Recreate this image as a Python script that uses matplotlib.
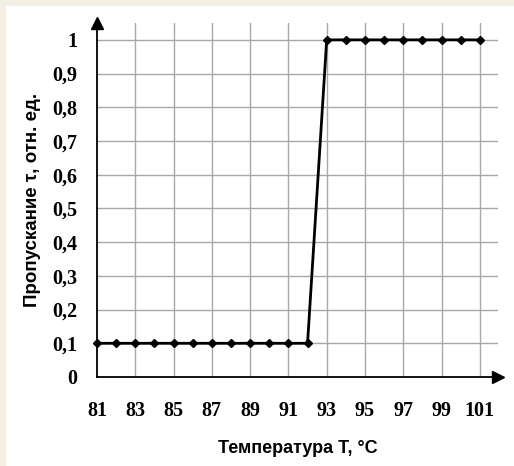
import matplotlib.pyplot as plt
from matplotlib.patches import Rectangle

# Transmission vs temperature
temps = [81, 82, 83, 84, 85, 86, 87, 88, 89, 90, 91, 92,
         93, 94, 95, 96, 97, 98, 99, 100, 101]
trans = [0.1, 0.1, 0.1, 0.1, 0.1, 0.1, 0.1, 0.1, 0.1, 0.1, 0.1, 0.1,
         1, 1, 1, 1, 1, 1, 1, 1, 1]
x_ticks = [81, 83, 85, 87, 89, 91, 93, 95, 97, 99, 101]
y_ticks = [0, 0.1, 0.2, 0.3, 0.4, 0.5, 0.6, 0.7, 0.8, 0.9, 1]
y_labels = ['0', '0,1', '0,2', '0,3', '0,4', '0,5', '0,6', '0,7', '0,8', '0,9', '1']

W, H = 514, 466
fig = plt.figure(figsize=(W / 100, H / 100), dpi=100)
fig.patch.set_facecolor('white')

# beige strips on left and top edges
beige = '#f4f1e4'
fig.patches.append(Rectangle((0, 0), 6 / W, 1, transform=fig.transFigure,
                             facecolor=beige, edgecolor='none', zorder=0))
fig.patches.append(Rectangle((0, 1 - 6 / H), 1, 6 / H, transform=fig.transFigure,
                             facecolor=beige, edgecolor='none', zorder=0))

ax = fig.add_axes([97 / W, 89 / H, (498 - 97) / W, (377 - 23) / H])
ax.set_facecolor('none')
ax.set_xlim(81, 101.95)
ax.set_ylim(0, 1.05)

# grid
for x in x_ticks[1:]:
    ax.axvline(x, color='#a8a8a8', lw=1.0, zorder=1)
for y in y_ticks[1:]:
    ax.axhline(y, color='#a8a8a8', lw=1.0, zorder=1)

ax.plot(temps, trans, color='black', lw=2.0, marker='D', markersize=4.5,
        zorder=3, clip_on=False)

for s in ['top', 'right']:
    ax.spines[s].set_visible(False)
for s in ['left', 'bottom']:
    ax.spines[s].set_linewidth(1.3)
    ax.spines[s].set_zorder(4)

# axis arrows
ax.plot(0, 1.0, marker='^', color='black', markersize=8, transform=ax.transAxes,
        clip_on=False, zorder=5)
ax.plot(1.0, 0, marker='>', color='black', markersize=8, transform=ax.transAxes,
        clip_on=False, zorder=5)

tick_font = dict(family='Liberation Serif', weight='bold', size=14.5)
ax.set_xticks(x_ticks)
ax.set_xticklabels([str(t) for t in x_ticks], fontdict=tick_font)
ax.set_yticks(y_ticks)
ax.set_yticklabels(y_labels, fontdict=tick_font)
ax.tick_params(axis='x', length=0, pad=17)
ax.tick_params(axis='y', length=0, pad=14)

ax.set_xlabel('Температура Т, °C', family='Liberation Sans', weight='bold',
              size=13, labelpad=14)
ax.set_ylabel('Пропускание τ, отн. ед.', family='Liberation Sans', weight='bold',
              size=13.5, labelpad=8)

fig.savefig('out.png', dpi=100)
